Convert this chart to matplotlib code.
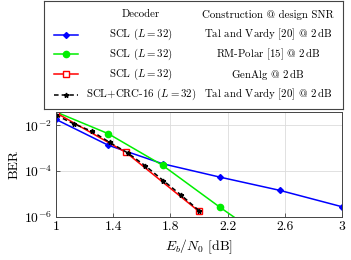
import matplotlib
matplotlib.use("Agg")
import matplotlib.pyplot as plt
from matplotlib.lines import Line2D

plt.rcParams['font.family'] = ['cmr10', 'DejaVu Serif']
plt.rcParams['mathtext.fontset'] = 'cm'
plt.rcParams['axes.formatter.use_mathtext'] = True
plt.rcParams['font.size'] = 9.8

# Tal and Vardy construction, SCL
snr_tv = [1.0, 1.365, 1.745, 2.145, 2.565, 3.0]
ber_tv = [1.8e-2, 1.35e-3, 2.1e-4, 5.5e-5, 1.45e-5, 2.8e-6]
# RM-Polar construction, SCL
snr_rm = [1.0, 1.365, 1.745, 2.145, 2.565]
ber_rm = [3.8e-2, 4.3e-3, 1.8e-4, 2.7e-6, 4e-8]
# GenAlg construction, SCL
snr_ga = [1.0, 1.49, 2.0]
ber_ga = [3.5e-2, 6.5e-4, 1.75e-6]
# Tal and Vardy, SCL+CRC-16
snr_crc = [1.0, 1.125, 1.25, 1.375, 1.5, 1.625, 1.75, 1.875, 2.0]
ber_crc = [2.75e-2, 1.15e-2, 5.5e-3, 1.8e-3, 6.3e-4, 1.7e-4, 3.9e-5, 9e-6, 1.9e-6]

decoders = ["SCL ($L = 32$)", "SCL ($L = 32$)", "SCL ($L = 32$)", "SCL+CRC-16 ($L = 32$)"]
constructions = ["Tal and Vardy [20] @ $2\\,$dB", "RM-Polar [15] @ $2\\,$dB",
                 "GenAlg @ $2\\,$dB", "Tal and Vardy [20] @ $2\\,$dB"]

styles = [
    dict(color='blue', marker='D', ms=3, ls='-'),
    dict(color='#00ee00', marker='o', ms=4.5, ls='-'),
    dict(color='red', marker='s', ms=4.5, ls='-', mfc='white'),
    dict(color='black', marker='*', ms=3.5, ls=(0, (3, 2))),
]

fig = plt.figure(figsize=(3.51, 2.6), dpi=100)
W, H = 351, 260
ax = fig.add_axes([56 / W, 1 - 217 / H, 286 / W, 105.5 / H])

series = [(snr_tv, ber_tv), (snr_rm, ber_rm), (snr_ga, ber_ga), (snr_crc, ber_crc)]
for (x, y), st in zip(series, styles):
    ax.plot(x, y, lw=1.1, **st)

ax.set_yscale('log')
ax.set_xlim(1, 3)
ax.set_ylim(1e-6, 10 ** -1.4)
ax.set_xticks([1, 1.4, 1.8, 2.2, 2.6, 3])
ax.set_xticklabels(["1", "1.4", "1.8", "2.2", "2.6", "3"])
ax.set_yticks([1e-6, 1e-4, 1e-2])
ax.yaxis.set_minor_locator(matplotlib.ticker.NullLocator())
ax.grid(True, color='#dcdcdc', lw=0.6)
ax.set_axisbelow(True)
ax.tick_params(direction='in', length=3, width=0.6, color='#444444', pad=3)
for s in ax.spines.values():
    s.set_color('#444444')
    s.set_linewidth(0.7)
ax.set_xlabel("$E_b/N_0$ [dB]", labelpad=3)
ax.set_ylabel("BER", labelpad=2)

# table-style legend above the plot
lg = fig.add_axes([44 / W, 1 - 109 / H, 299 / W, 108.5 / H])
lg.set_xlim(0, 299)
lg.set_ylim(108.5, 0)
lg.set_xticks([])
lg.set_yticks([])
for s in lg.spines.values():
    s.set_color('#444444')
    s.set_linewidth(0.8)
fs = 7.8
lg.text(97, 14, "Decoder", ha='center', va='center', fontsize=fs)
lg.text(224, 14, "Construction @ design SNR", ha='center', va='center', fontsize=fs)
rows = [34, 53.5, 73.5, 94]
for yr, st, dec, con in zip(rows, styles, decoders, constructions):
    lg.add_line(Line2D([10, 22, 34], [yr, yr, yr], lw=1.1, markevery=[1], **st))
    lg.text(97, yr, dec, ha='center', va='center', fontsize=fs)
    lg.text(224, yr, con, ha='center', va='center', fontsize=fs)

fig.savefig("out.png", dpi=100)
